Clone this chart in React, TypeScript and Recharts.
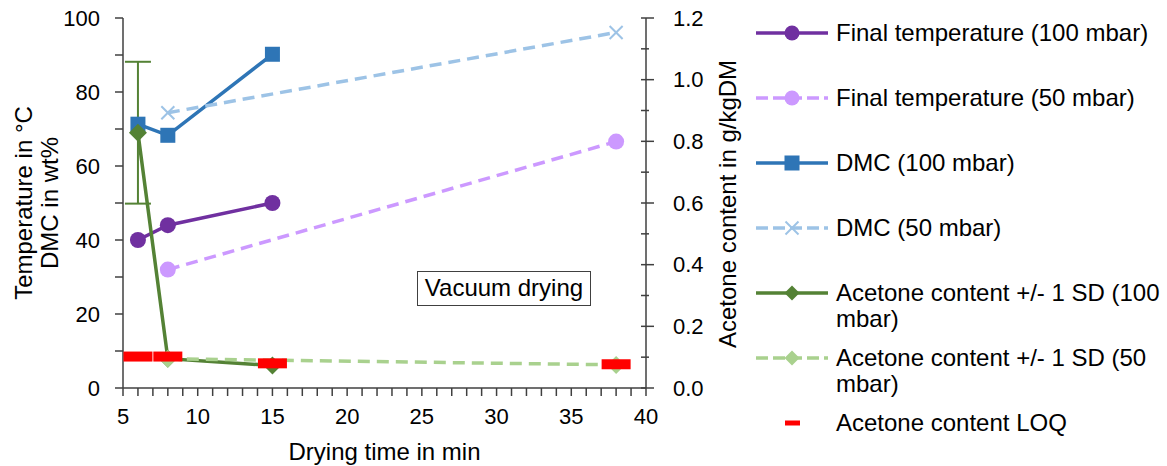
import { ComposedChart, Line, XAxis, YAxis, ErrorBar, Legend } from "recharts";

// drying times (min)
const time100 = [6, 8, 15];
const time50 = [8, 38];
const timeLoq = [6, 8, 15, 38];

// left axis: temperature in °C / DMC in wt%
const finalTemp100 = [40, 44, 50];
const finalTemp50 = [32, 66.6];
const dmc100 = [71.3, 68.3, 90.2];
const dmc50 = [74.4, 96.1];

// right axis: acetone content in g/kgDM
const acetone100 = [0.828, 0.095, 0.073];
const acetone100Sd = [0.23, 0, 0];
const acetone50 = [0.095, 0.075];
const acetoneLoq = [0.102, 0.102, 0.08, 0.077];

const xTicks = [5, 6, 7, 8, 9, 10, 11, 12, 13, 14, 15, 16, 17, 18, 19, 20, 21, 22, 23, 24, 25, 26, 27, 28, 29, 30, 31, 32, 33, 34, 35, 36, 37, 38, 39, 40];
const leftTicks = [0, 10, 20, 30, 40, 50, 60, 70, 80, 90, 100];
const rightTicks = [0, 0.1, 0.2, 0.3, 0.4, 0.5, 0.6, 0.7, 0.8, 0.9, 1.0, 1.1, 1.2];

const FONT = '"Liberation Sans", Arial, sans-serif';
const AXIS = "#404040";

const PURPLE = "#7030A0";
const LILAC = "#CC99FF";
const BLUE = "#2E75B6";
const LIGHT_BLUE = "#9DC3E6";
const GREEN = "#548235";
const LIGHT_GREEN = "#A9D18E";
const RED = "#FF0000";
const DASH = "12 7";
const LW = 3.5;

const zip = (ts: number[], vs: number[], sd?: number[]) =>
  ts.map((t, i) => ({ t, v: vs[i], sd: sd ? sd[i] : 0 }));

type MarkerKind = "circle" | "square" | "cross" | "diamond" | "loq";

function Marker({ kind, cx, cy, color, size }: { kind: MarkerKind; cx: number; cy: number; color: string; size: number }) {
  const h = size / 2;
  if (kind === "circle") return <circle cx={cx} cy={cy} r={h} fill={color} />;
  if (kind === "square") return <rect x={cx - h} y={cy - h} width={size} height={size} fill={color} />;
  if (kind === "diamond")
    return <polygon points={`${cx},${cy - h} ${cx + h},${cy} ${cx},${cy + h} ${cx - h},${cy}`} fill={color} />;
  if (kind === "cross")
    return (
      <g stroke={color} strokeWidth={2}>
        <line x1={cx - h} y1={cy - h} x2={cx + h} y2={cy + h} />
        <line x1={cx - h} y1={cy + h} x2={cx + h} y2={cy - h} />
      </g>
    );
  return <rect x={cx - 14.5} y={cy - 5} width={29} height={10} fill={color} />;
}

const dotOf = (kind: MarkerKind, color: string, size: number) => (p: any) =>
  <Marker key={p.index} kind={kind} cx={p.cx} cy={p.cy} color={color} size={size} />;

const legendItems: { name: string; color: string; dash?: string; kind: MarkerKind; line: boolean }[] = [
  { name: "Final temperature (100 mbar)", color: PURPLE, kind: "circle", line: true },
  { name: "Final temperature (50 mbar)", color: LILAC, dash: DASH, kind: "circle", line: true },
  { name: "DMC (100 mbar)", color: BLUE, kind: "square", line: true },
  { name: "DMC (50 mbar)", color: LIGHT_BLUE, dash: DASH, kind: "cross", line: true },
  { name: "Acetone content +/- 1 SD (100 mbar)", color: GREEN, kind: "diamond", line: true },
  { name: "Acetone content +/- 1 SD (50 mbar)", color: LIGHT_GREEN, dash: DASH, kind: "diamond", line: true },
  { name: "Acetone content LOQ", color: RED, kind: "loq", line: false },
];

function ChartLegend() {
  return (
    <div style={{ fontFamily: FONT, fontSize: 24, color: "#000" }}>
      {legendItems.map((it) => (
        <div key={it.name} style={{ display: "flex", alignItems: "flex-start", height: 65 }}>
          <svg width={80} height={26} style={{ flex: "none" }}>
            {it.line && (
              <line x1={0} x2={72} y1={13} y2={13} stroke={it.color} strokeWidth={LW} strokeDasharray={it.dash ? "12 5" : undefined} />
            )}
            {it.kind === "loq" ? (
              <rect x={29} y={10.5} width={15} height={5} fill={it.color} />
            ) : (
              <Marker kind={it.kind} cx={36} cy={13} color={it.color} size={it.kind === "cross" ? 13 : 15} />
            )}
          </svg>
          <div style={{ width: 330, lineHeight: "26px" }}>{it.name}</div>
        </div>
      ))}
    </div>
  );
}

const txt = { fontFamily: FONT, fill: "#000" };

const LeftTick = (p: any) => {
  const v = p.payload.value;
  return (
    <g>
      <line x1={p.x - 8} x2={p.x} y1={p.y} y2={p.y} stroke={AXIS} strokeWidth={1.5} />
      {v % 20 === 0 && (
        <text {...txt} x={p.x - 23} y={p.y} textAnchor="end" dominantBaseline="central" fontSize={22}>
          {v}
        </text>
      )}
    </g>
  );
};

const RightTick = (p: any) => {
  const v = p.payload.value;
  const major = Math.round(v * 10) % 2 === 0;
  return (
    <g>
      <line x1={p.x - 5} x2={p.x + (major ? 8 : 3)} y1={p.y} y2={p.y} stroke={AXIS} strokeWidth={1.5} />
      {major && (
        <text {...txt} x={p.x + 27} y={p.y} textAnchor="start" dominantBaseline="central" fontSize={22}>
          {v.toFixed(1)}
        </text>
      )}
    </g>
  );
};

const BottomTick = (p: any) => {
  const v = p.payload.value;
  return (
    <g>
      <line x1={p.x} x2={p.x} y1={p.y} y2={p.y + 8} stroke={AXIS} strokeWidth={1.5} />
      {v % 5 === 0 && (
        <text {...txt} x={p.x} y={p.y + 28} textAnchor="middle" dominantBaseline="central" fontSize={22}>
          {v}
        </text>
      )}
    </g>
  );
};

const leftTitle = () => (
  <text {...txt} transform="translate(0,203) rotate(-90)" textAnchor="middle" dominantBaseline="central" fontSize={24}>
    <tspan x={0} y={22.5}>Temperature in °C</tspan>
    <tspan x={0} y={49}>DMC in wt%</tspan>
  </text>
);

const rightTitle = () => (
  <text {...txt} transform="translate(727,204) rotate(-90)" textAnchor="middle" dominantBaseline="central" fontSize={24}>
    Acetone content in g/kgDM
  </text>
);

const bottomTitle = () => (
  <text {...txt} x={384.5} y={451} textAnchor="middle" dominantBaseline="central" fontSize={24}>
    Drying time in min
  </text>
);

export default function App() {
  return (
    <div style={{ position: "absolute", left: 0, top: 0, width: 1167, height: 466, background: "#fff", fontFamily: FONT }}>
      <ComposedChart width={1167} height={466} margin={{ top: 18, right: 0, bottom: 0, left: 0 }}>
        <XAxis
          dataKey="t"
          type="number"
          domain={[5, 40]}
          ticks={xTicks}
          interval={0}
          height={78}
          tickSize={0}
          tickMargin={0}
          tickLine={false}
          axisLine={{ stroke: AXIS, strokeWidth: 1.5 }}
          tick={BottomTick}
          label={{ content: bottomTitle }}
        />
        <YAxis
          yAxisId="left"
          orientation="left"
          domain={[0, 100]}
          ticks={leftTicks}
          interval={0}
          width={123}
          tickSize={0}
          tickMargin={0}
          tickLine={false}
          axisLine={{ stroke: AXIS, strokeWidth: 1.5 }}
          tick={LeftTick}
          label={{ content: leftTitle }}
        />
        <YAxis
          yAxisId="right"
          orientation="right"
          domain={[0, 1.2]}
          ticks={rightTicks}
          interval={0}
          width={521}
          tickSize={0}
          tickMargin={0}
          tickLine={false}
          axisLine={{ stroke: AXIS, strokeWidth: 1.5 }}
          tick={RightTick}
          label={{ content: rightTitle }}
        />
        <Legend
          layout="vertical"
          align="center"
          verticalAlign="middle"
          content={() => <ChartLegend />}
          wrapperStyle={{ left: 756, top: 20, width: 411, bottom: "auto", right: "auto" }}
        />
        <Line yAxisId="left" data={zip(time100, finalTemp100)} dataKey="v" stroke={PURPLE} strokeWidth={LW}
          dot={dotOf("circle", PURPLE, 16)} activeDot={false} isAnimationActive={false} />
        <Line yAxisId="left" data={zip(time50, finalTemp50)} dataKey="v" stroke={LILAC} strokeWidth={LW} strokeDasharray={DASH}
          dot={dotOf("circle", LILAC, 16)} activeDot={false} isAnimationActive={false} />
        <Line yAxisId="left" data={zip(time100, dmc100)} dataKey="v" stroke={BLUE} strokeWidth={LW}
          dot={dotOf("square", BLUE, 15)} activeDot={false} isAnimationActive={false} />
        <Line yAxisId="left" data={zip(time50, dmc50)} dataKey="v" stroke={LIGHT_BLUE} strokeWidth={LW} strokeDasharray={DASH}
          dot={dotOf("cross", LIGHT_BLUE, 13)} activeDot={false} isAnimationActive={false} />
        <Line yAxisId="right" data={zip(time100, acetone100, acetone100Sd)} dataKey="v" stroke={GREEN} strokeWidth={LW}
          dot={dotOf("diamond", GREEN, 18)} activeDot={false} isAnimationActive={false}>
          <ErrorBar dataKey="sd" width={13} stroke={GREEN} strokeWidth={2} direction="y" />
        </Line>
        <Line yAxisId="right" data={zip(time50, acetone50)} dataKey="v" stroke={LIGHT_GREEN} strokeWidth={LW} strokeDasharray={DASH}
          dot={dotOf("diamond", LIGHT_GREEN, 18)} activeDot={false} isAnimationActive={false} />
        <Line yAxisId="right" data={zip(timeLoq, acetoneLoq)} dataKey="v" stroke="none"
          dot={dotOf("loq", RED, 0)} activeDot={false} isAnimationActive={false} />
      </ComposedChart>
      <div
        style={{
          position: "absolute",
          left: 417,
          top: 271,
          width: 174,
          height: 35,
          boxSizing: "border-box",
          border: `1.5px solid ${AXIS}`,
          background: "#fff",
          fontSize: 24,
          lineHeight: "32px",
          textAlign: "center",
          color: "#000",
        }}
      >
        Vacuum drying
      </div>
    </div>
  );
}
